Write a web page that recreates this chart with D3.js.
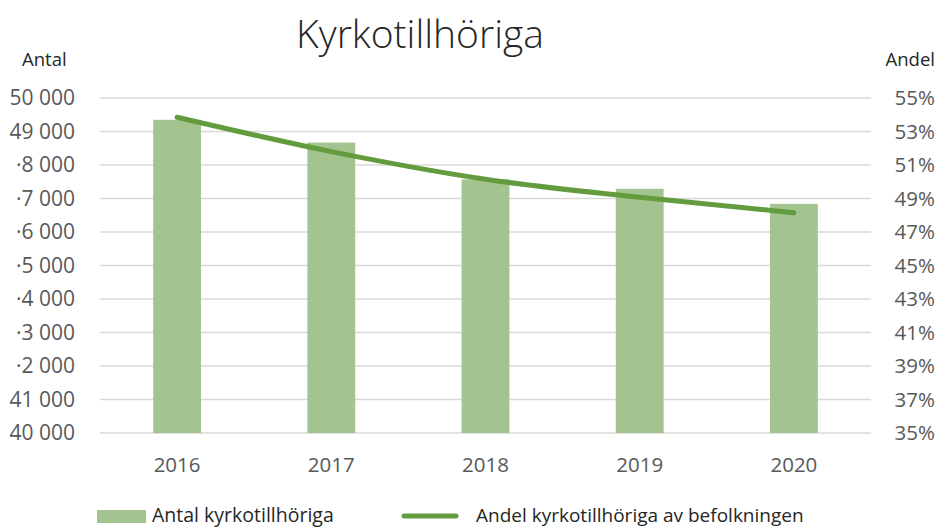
<!DOCTYPE html>
<html>
<head>
<meta charset="utf-8">
<script src="https://cdn.jsdelivr.net/npm/d3@7"></script>
<style>
  body { margin: 0; background: #fff; }
  svg { font-family: 'Open Sans', sans-serif; }
</style>
</head>
<body>
<div id="chart"></div>
<script>
const years = ['2016', '2017', '2018', '2019', '2020'];
const antal = [49350, 48670, 47570, 47290, 46840];
const andel = [53.85, 51.8, 50.15, 49.07, 48.15];
const leftTicks = [40000, 41000, 42000, 43000, 44000, 45000, 46000, 47000, 48000, 49000, 50000];
const leftLabels = ['40 000', '41 000', '·2 000', '·3 000', '·4 000', '·5 000', '·6 000', '·7 000', '·8 000', '49 000', '50 000'];
const rightTicks = [35, 37, 39, 41, 43, 45, 47, 49, 51, 53, 55];

const width = 939, height = 527;
const margin = { top: 98, right: 68, bottom: 94, left: 100 };
const barColor = '#a3c48f';
const lineColor = '#639c3e';
const textColor = '#595959';

const svg = d3.select('#chart')
  .append('svg')
  .attr('width', width)
  .attr('height', height);

const x = d3.scaleBand()
  .domain(years)
  .range([margin.left, width - margin.right])
  .paddingInner(0.69)
  .paddingOuter(0.345);

const yL = d3.scaleLinear()
  .domain([40000, 50000])
  .range([height - margin.bottom, margin.top]);

const yR = d3.scaleLinear()
  .domain([35, 55])
  .range([height - margin.bottom, margin.top]);

//gridlines
svg.append('g')
  .selectAll('line')
  .data(leftTicks)
  .enter()
  .append('line')
  .attr('x1', margin.left)
  .attr('x2', width - margin.right)
  .attr('y1', d => yL(d))
  .attr('y2', d => yL(d))
  .attr('stroke', '#d9d9d9')
  .attr('stroke-width', 1.5);

//bars
svg.append('g')
  .selectAll('rect')
  .data(antal)
  .enter()
  .append('rect')
  .attr('x', (d, i) => x(years[i]))
  .attr('y', d => yL(d))
  .attr('width', x.bandwidth())
  .attr('height', d => yL(40000) - yL(d))
  .attr('fill', barColor);

//line
const line = d3.line()
  .curve(d3.curveMonotoneX)
  .x((d, i) => x(years[i]) + x.bandwidth() / 2)
  .y(d => yR(d));

svg.append('path')
  .datum(andel)
  .attr('d', line)
  .attr('fill', 'none')
  .attr('stroke', lineColor)
  .attr('stroke-width', 5)
  .attr('stroke-linecap', 'round');

//left axis labels
svg.append('g')
  .selectAll('text')
  .data(leftTicks)
  .enter()
  .append('text')
  .attr('x', 75)
  .attr('y', d => yL(d))
  .attr('dy', '0.35em')
  .attr('text-anchor', 'end')
  .attr('font-size', 21)
  .attr('fill', textColor)
  .text((d, i) => leftLabels[i]);

//right axis labels
svg.append('g')
  .selectAll('text')
  .data(rightTicks)
  .enter()
  .append('text')
  .attr('x', 935)
  .attr('y', d => yR(d))
  .attr('dy', '0.35em')
  .attr('text-anchor', 'end')
  .attr('font-size', 20.5)
  .attr('fill', textColor)
  .text(d => d + '%');

//x labels
svg.append('g')
  .selectAll('text')
  .data(years)
  .enter()
  .append('text')
  .attr('x', d => x(d) + x.bandwidth() / 2)
  .attr('y', 472)
  .attr('text-anchor', 'middle')
  .attr('font-size', 20.5)
  .attr('fill', textColor)
  .text(d => d);

//titles
svg.append('text')
  .attr('x', 420)
  .attr('y', 48)
  .attr('text-anchor', 'middle')
  .attr('font-size', 39)
  .attr('font-weight', 300)
  .attr('fill', '#262626')
  .text('Kyrkotillhöriga');

svg.append('text')
  .attr('x', 22)
  .attr('y', 66)
  .attr('font-size', 18.5)
  .attr('fill', '#262626')
  .text('Antal');

svg.append('text')
  .attr('x', 935)
  .attr('y', 66)
  .attr('text-anchor', 'end')
  .attr('font-size', 18.5)
  .attr('fill', '#262626')
  .text('Andel');

//legend
svg.append('rect')
  .attr('x', 97)
  .attr('y', 510)
  .attr('width', 49)
  .attr('height', 13)
  .attr('fill', barColor);

svg.append('text')
  .attr('x', 152)
  .attr('y', 522)
  .attr('font-size', 19.5)
  .attr('fill', '#262626')
  .text('Antal kyrkotillhöriga');

svg.append('line')
  .attr('x1', 404)
  .attr('x2', 456)
  .attr('y1', 516)
  .attr('y2', 516)
  .attr('stroke', lineColor)
  .attr('stroke-width', 5)
  .attr('stroke-linecap', 'round');

svg.append('text')
  .attr('x', 476)
  .attr('y', 522)
  .attr('font-size', 19)
  .attr('fill', '#262626')
  .text('Andel kyrkotillhöriga av befolkningen');
</script>
</body>
</html>
